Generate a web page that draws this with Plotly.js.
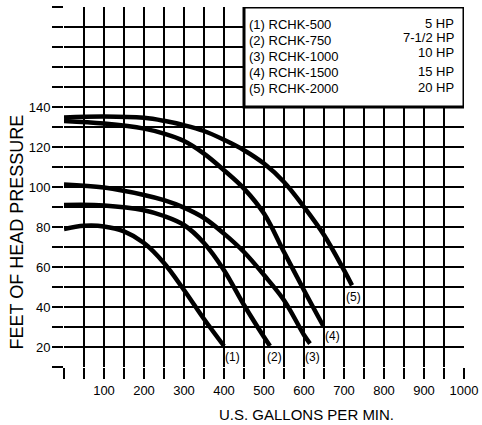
<!DOCTYPE html>
<html>
<head>
<meta charset="utf-8">
<script src="https://cdn.plot.ly/plotly-3.0.1.min.js"></script>
<style>html,body{margin:0;padding:0;background:#fff;}#chart{width:482px;height:425px;}</style>
</head>
<body>
<div id="chart"></div>
<script>
// ---- data ----
const gpm1 = [0, 50, 100, 150, 200, 250, 300, 350, 400];
const head1 = [79, 80.6, 80.3, 77.8, 72, 62, 48.5, 34, 20.5];

const gpm2 = [0, 100, 200, 250, 300, 350, 400, 450, 500, 515];
const head2 = [91, 90.8, 88.4, 85.5, 81, 72, 58.4, 41, 25, 20.5];

const gpm3 = [0, 100, 200, 250, 300, 350, 400, 450, 500, 550, 600, 615];
const head3 = [101.2, 99.7, 96, 93.4, 89.7, 84.5, 76.7, 67.5, 56, 43.4, 26, 21.7];

const gpm4 = [0, 100, 200, 250, 300, 350, 400, 450, 500, 550, 600, 648];
const head4 = [133, 131.7, 129.2, 126.7, 123, 116.7, 108.4, 99.2, 86.7, 67.5, 48.4, 30.6];

const gpm5 = [0, 100, 200, 250, 300, 350, 400, 450, 500, 550, 600, 650, 700, 720];
const head5 = [134.8, 135.3, 134.6, 133.1, 130.9, 128, 123.6, 118.4, 111.7, 102.5, 90, 76, 58.4, 50.8];

const curveTags = ["(1)", "(2)", "(3)", "(4)", "(5)"];
const models = ["(1) RCHK-500", "(2) RCHK-750", "(3) RCHK-1000", "(4) RCHK-1500", "(5) RCHK-2000"];
const power = ["5 HP", "7-1/2 HP", "10 HP", "15 HP", "20 HP"];

const xTickVals = [0,50,100,150,200,250,300,350,400,450,500,550,600,650,700,750,800,850,900,950,1000];
const xTickText = ["","","100","","200","","300","","400","","500","","600","","700","","800","","900","","1000"];
const yTickVals = [10,20,30,40,50,60,70,80,90,100,110,120,130,140,150,160,170,180,190];
const yTickText = ["","20","","40","","60","","80","","100","","120","","140","","","","",""];

const xTitle = "U.S. GALLONS PER MIN.";
const yTitle = "FEET OF HEAD PRESSURE";

// ---- chart ----
const FONT = "Liberation Sans, Arial, sans-serif";
const series = [[gpm1, head1], [gpm2, head2], [gpm3, head3], [gpm4, head4], [gpm5, head5]];
const traces = series.map((s, i) => ({
  x: s[0], y: s[1], type: "scatter", mode: "lines", name: models[i],
  line: {color: "#000", width: 4.5, shape: "spline", smoothing: 1},
  hoverinfo: "skip"
}));

// tag positions (layout)
const tagPos = [[420, 15], [525, 15], [621, 15], [671, 25.3], [724, 45]];
const annotations = [];
curveTags.forEach((t, i) => annotations.push({
  text: t, x: tagPos[i][0], y: tagPos[i][1], xref: "x", yref: "y",
  xanchor: "center", yanchor: "middle",
  showarrow: false, font: {family: FONT, size: 12, color: "#000"}
}));
const modelY = [181.5, 173.5, 165.5, 157.5, 149.5];
const powerY = [181.8, 174.6, 167.3, 157.7, 149.7];
models.forEach((m, i) => annotations.push({
  text: m, x: 457.5, y: modelY[i], xref: "x", yref: "y", xanchor: "left", yanchor: "middle",
  showarrow: false, font: {family: FONT, size: 13, color: "#000"}
}));
power.forEach((p, i) => annotations.push({
  text: p, x: 980, y: powerY[i], xref: "x", yref: "y", xanchor: "right", yanchor: "middle",
  showarrow: false, font: {family: FONT, size: 13, color: "#000"}
}));
annotations.push({
  text: xTitle, xref: "paper", yref: "paper", x: (306 - 64) / 400, y: (367 - 414) / 360,
  xanchor: "center", yanchor: "middle",
  showarrow: false, font: {family: FONT, size: 15, color: "#000"}
});
annotations.push({
  text: yTitle, xref: "paper", yref: "paper", x: (16.5 - 64) / 400, y: (367 - 232) / 360,
  xanchor: "center", yanchor: "middle",
  textangle: -90, showarrow: false, font: {family: FONT, size: 18, color: "#000"}
});

const axisCommon = {
  showgrid: true, gridcolor: "#000", gridwidth: 2, zeroline: false,
  ticks: "outside", ticklen: 11, tickwidth: 2, tickcolor: "#000",
  tickmode: "array", showline: false, fixedrange: true,
  tickfont: {family: FONT, size: 13, color: "#000"}
};

const layout = {
  width: 482, height: 425,
  margin: {l: 64, r: 18, t: 7, b: 58, pad: 0},
  paper_bgcolor: "#fff", plot_bgcolor: "#fff",
  showlegend: false,
  font: {family: FONT, color: "#000"},
  xaxis: Object.assign({}, axisCommon, {range: [0, 1000], tickvals: xTickVals, ticktext: xTickText}),
  yaxis: Object.assign({}, axisCommon, {range: [10, 190], tickvals: yTickVals, ticktext: yTickText, ticklabelstandoff: -1}),
  shapes: [{
    type: "rect", xref: "x", yref: "y", x0: 450, x1: 1000, y0: 140, y1: 190,
    fillcolor: "#fff", line: {color: "#000", width: 3}, layer: "above"
  }],
  annotations: annotations
};

Plotly.newPlot("chart", traces, layout, {staticPlot: true, displayModeBar: false});
</script>
</body>
</html>
